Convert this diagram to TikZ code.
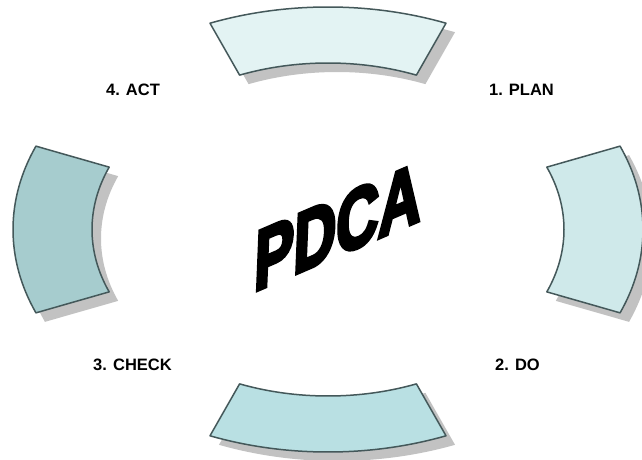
\documentclass[tikz,border=0pt]{standalone}
\usepackage{fontspec}
\setmainfont{Liberation Sans}
\newfontfamily\cyheavy[FakeBold=5]{Liberation Sans Bold}
\usetikzlibrary{positioning}
\definecolor{cyPlan}{HTML}{E3F3F3}
\definecolor{cyDo}{HTML}{CFE9EA}
\definecolor{cyCheck}{HTML}{B9E0E3}
\definecolor{cyAct}{HTML}{A6CCCE}
\definecolor{cyEdge}{HTML}{44585A}
\definecolor{cyShade}{HTML}{C2C2C2}
\tikzset{
  cyseg/.style={draw=cyEdge, line width=1.5pt, line join=round},
  cyshade/.style={fill=cyShade, draw=none},
  cylabel/.style={font=\fontsize{16.5}{18}\selectfont\bfseries, inner sep=0pt},
  cytitle/.style={font=\fontsize{84}{90}\selectfont\cyheavy, inner sep=0pt,
    yslant=0.43, xscale=0.7, xslant=0.06}
}
% one ring segment, centred on angle #1
\newcommand{\cysector}[1]{(#1-22:315 and 222.5)
  arc[start angle=#1-22, end angle=#1+22, x radius=315, y radius=222.5]
  -- (#1+22:236 and 166.5)
  arc[start angle=#1+22, end angle=#1-22, x radius=236, y radius=166.5] -- cycle}

\begin{document}
\begin{tikzpicture}[x=1pt, y=1pt]
  \fill[white] (-328,-230.5) rectangle (314,229.5);
  \useasboundingbox (-328,-230.5) rectangle (314,229.5);
  \foreach \ang/\col in {90/cyPlan, 0/cyDo, 270/cyCheck, 180/cyAct} {
    \fill[cyshade, shift={(9,-9)}] \cysector{\ang};
    \filldraw[cyseg, fill=\col] \cysector{\ang};
  }
  \node[cytitle] (title) at (10,3) {PDCA};
  \node[cylabel] (plan) at (193.5,139.5) {1. PLAN};
  \node[cylabel] (do) at (189.5,-135.5) {2. DO};
  \node[cylabel] (check) at (-195.5,-135.5) {3. CHECK};
  \node[cylabel] (act) at (-195,139.5) {4. ACT};
\end{tikzpicture}
\end{document}
